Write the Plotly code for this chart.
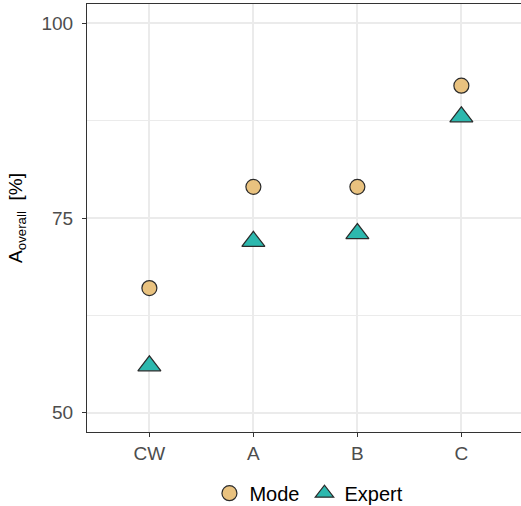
import plotly.graph_objects as go

categories = ["CW", "A", "B", "C"]
mode_vals = [66, 79, 79, 92]
expert_vals = [56, 72, 73, 88]
y_ticks = [50, 75, 100]

fig = go.Figure()
fig.add_trace(go.Scatter(
    x=categories, y=mode_vals, mode="markers", name="Mode",
    marker=dict(symbol="circle", size=15, color="#E9C27F",
                line=dict(color="#2B2B2B", width=1.2)),
))
fig.add_trace(go.Scatter(
    x=categories, y=expert_vals, mode="markers", name="Expert",
    marker=dict(symbol="triangle-up", size=20, color="#2DB8AE",
                line=dict(color="#2B2B2B", width=1.2)),
))

fig.update_layout(
    width=530, height=506,
    margin=dict(l=87, r=0, t=4, b=74, autoexpand=False),
    plot_bgcolor="white", paper_bgcolor="white",
    font=dict(family="Liberation Sans, Arial, sans-serif", size=19, color="#4D4D4D"),
    showlegend=True,
    legend=dict(orientation="h", x=0.501, xanchor="center", y=-0.143, yanchor="middle",
                font=dict(size=20, color="black"), itemwidth=30, tracegroupgap=0),
    xaxis=dict(
        type="category", categoryorder="array", categoryarray=categories,
        range=[-0.6, 3.66],
        showgrid=True, gridcolor="#EBEBEB", gridwidth=1.5,
        showline=True, linecolor="#333333", linewidth=1.2, mirror=True,
        ticks="outside", ticklen=4, tickcolor="#333333", tickwidth=1.2,
        tickfont=dict(size=19, color="#4D4D4D"),
        zeroline=False,
    ),
    yaxis=dict(
        range=[47.5, 102.5], tickvals=y_ticks,
        showgrid=True, gridcolor="#EBEBEB", gridwidth=1.5,
        minor=dict(tickvals=[62.5, 87.5], showgrid=True, gridcolor="#EBEBEB", gridwidth=0.8),
        showline=True, linecolor="#333333", linewidth=1.2, mirror=True,
        ticks="outside", ticklen=4, tickcolor="#333333", tickwidth=1.2,
        ticklabelstandoff=5,
        tickfont=dict(size=19, color="#4D4D4D"),
        title=dict(text="A<sub>overall</sub>  [%]", font=dict(size=19, color="black"), standoff=13),
        zeroline=False,
    ),
)

fig.write_html(
    "out.html",
    config={"displayModeBar": False},
    post_script="document.body.style.margin='0';document.body.style.overflow='hidden';",
)
